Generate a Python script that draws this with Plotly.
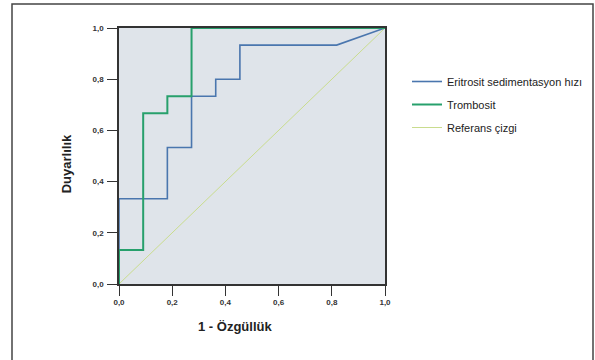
import plotly.graph_objects as go

# Data (1 - specificity, sensitivity)
esr_x = [0.0, 0.0, 0.1818, 0.1818, 0.2727, 0.2727, 0.3636, 0.3636, 0.4545, 0.4545, 0.8182, 1.0]
esr_y = [0.0, 0.3333, 0.3333, 0.5333, 0.5333, 0.7333, 0.7333, 0.8, 0.8, 0.9333, 0.9333, 1.0]
plt_x = [0.0, 0.0, 0.0909, 0.0909, 0.1818, 0.1818, 0.2727, 0.2727, 1.0]
plt_y = [0.0, 0.1333, 0.1333, 0.6667, 0.6667, 0.7333, 0.7333, 1.0, 1.0]
ref_x = [0.0, 1.0]
ref_y = [0.0, 1.0]
series_names = ["Eritrosit sedimentasyon hızı", "Trombosit", "Referans çizgi"]
tick_vals = [0.0, 0.2, 0.4, 0.6, 0.8, 1.0]
tick_text = ["<b>0,0</b>", "<b>0,2</b>", "<b>0,4</b>", "<b>0,6</b>", "<b>0,8</b>", "<b>1,0</b>"]

fig = go.Figure()
fig.add_trace(go.Scatter(x=ref_x, y=ref_y, mode="lines", name=series_names[2],
                         legendgroup="c", line=dict(color="#c9dc8e", width=1), legendrank=3))
fig.add_trace(go.Scatter(x=esr_x, y=esr_y, mode="lines", name=series_names[0],
                         legendgroup="a", line=dict(color="#4a76ae", width=1.6), legendrank=1))
fig.add_trace(go.Scatter(x=plt_x, y=plt_y, mode="lines", name=series_names[1],
                         legendgroup="b", line=dict(color="#27a06c", width=2), legendrank=2))

axis_common = dict(range=[0, 1], tickvals=tick_vals, ticktext=tick_text,
                   ticks="outside", ticklen=10, tickwidth=1.3, tickcolor="#333",
                   showgrid=False, zeroline=False, showline=True, linecolor="#333",
                   linewidth=1.5, mirror=True,
                   tickfont=dict(family="Liberation Sans, Arial", size=8, color="#333"))

fig.update_layout(
    width=595, height=360,
    margin=dict(l=119, r=210, t=28, b=76),
    paper_bgcolor="white", plot_bgcolor="#dfe4ea",
    xaxis=dict(**axis_common),
    yaxis=dict(**axis_common, ticklabelstandoff=2),
    showlegend=True,
    legend=dict(xref="container", yref="container", x=407 / 595, y=1 - 67 / 360,
                xanchor="left", yanchor="top",
                font=dict(family="Liberation Sans, Arial", size=11, color="#222"),
                bgcolor="rgba(0,0,0,0)", traceorder="grouped", tracegroupgap=4,
                itemwidth=30),
    annotations=[
        dict(text="<b>1 - Özgüllük</b>", x=0.435, y=-0.165, xref="paper", yref="paper",
             showarrow=False, yanchor="middle", xanchor="center",
             font=dict(family="Liberation Sans, Arial", size=13, color="#222")),
        dict(text="<b>Duyarlılık</b>", x=-0.197, y=0.47, xref="paper", yref="paper",
             showarrow=False, textangle=-90, xanchor="center", yanchor="middle",
             font=dict(family="Liberation Sans, Arial", size=13, color="#222")),
    ],
    shapes=[
        dict(type="rect", xref="paper", yref="paper",
             x0=(12 - 119) / 266, x1=(593 - 119) / 266,
             y0=-0.35, y1=(284 - 4) / 256,
             line=dict(color="#444", width=1.5), fillcolor="rgba(0,0,0,0)", layer="below"),
    ],
)

fig.write_html("out.html", config={"displayModeBar": False},
               post_script="document.body.style.margin='0';")
